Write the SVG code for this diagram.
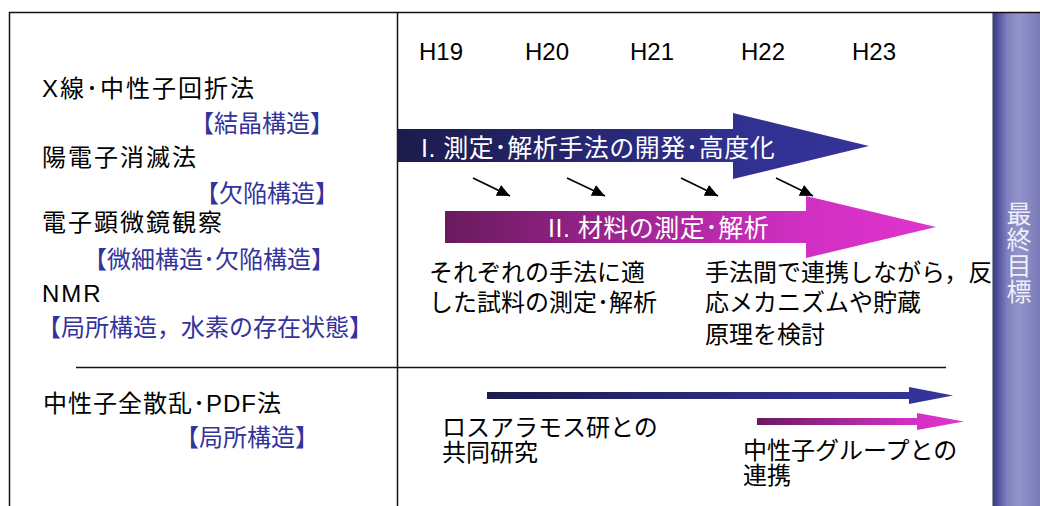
<svg xmlns="http://www.w3.org/2000/svg" width="1040" height="506" viewBox="0 0 1040 506">
<defs>
<style>
.lb{font-family:"Liberation Sans","Noto Sans CJK JP",sans-serif;font-size:24px;fill:#000;letter-spacing:2px}
.lb1{font-family:"Liberation Sans","Noto Sans CJK JP",sans-serif;font-size:24px;fill:#000;letter-spacing:1px}
.bl{font-family:"Liberation Sans","Noto Sans CJK JP",sans-serif;font-size:24px;fill:#33339a}
.tx{font-family:"Liberation Sans","Noto Sans CJK JP",sans-serif;font-size:24px;fill:#000}
.yr{font-family:"Liberation Sans",Arial,sans-serif;font-size:24px;fill:#000}
.wt{font-family:"Liberation Sans","Noto Sans CJK JP",sans-serif;font-size:25px;fill:#fff;letter-spacing:0.5px}
.vt{font-family:"Noto Sans CJK JP",sans-serif;font-size:25px;fill:#eeeefa;letter-spacing:1px}
.ln{stroke:#111;stroke-width:1.5;fill:none}
.sa{stroke:#000;stroke-width:1.6;fill:none;marker-end:url(#ah)}
</style>
<linearGradient id="gNavy" x1="397" y1="0" x2="869" y2="0" gradientUnits="userSpaceOnUse">
<stop offset="0" stop-color="#1b1b4b"/><stop offset="0.7" stop-color="#30308f"/><stop offset="1" stop-color="#34349a"/>
</linearGradient>
<linearGradient id="gMag" x1="445" y1="0" x2="936" y2="0" gradientUnits="userSpaceOnUse">
<stop offset="0" stop-color="#6a1a5e"/><stop offset="0.72" stop-color="#d02fc2"/><stop offset="1" stop-color="#df34cd"/>
</linearGradient>
<linearGradient id="gNavy2" x1="487" y1="0" x2="953" y2="0" gradientUnits="userSpaceOnUse">
<stop offset="0" stop-color="#1b1b4b"/><stop offset="0.7" stop-color="#30308f"/><stop offset="1" stop-color="#34349a"/>
</linearGradient>
<linearGradient id="gMag2" x1="757" y1="0" x2="964" y2="0" gradientUnits="userSpaceOnUse">
<stop offset="0" stop-color="#6a1a5e"/><stop offset="0.72" stop-color="#d02fc2"/><stop offset="1" stop-color="#df34cd"/>
</linearGradient>
<linearGradient id="gBar" x1="0" y1="0" x2="1" y2="0">
<stop offset="0" stop-color="#38388f"/><stop offset="0.3" stop-color="#8080bd"/><stop offset="0.55" stop-color="#9393cb"/><stop offset="1" stop-color="#7a7ab8"/>
</linearGradient>
<marker id="ah" markerWidth="14" markerHeight="12" refX="13" refY="6" orient="auto" markerUnits="userSpaceOnUse">
<path d="M0,0 L13,6 L0,12 Z" fill="#000"/>
</marker>
</defs>
<rect width="1040" height="506" fill="#fff"/>

<g id="frame">
<rect id="goal-bar" x="993" y="12" width="47" height="494" fill="url(#gBar)"/>
<line x1="992.5" y1="12" x2="992.5" y2="506" stroke="#999" stroke-width="1"/>
<path class="ln" d="M9.5,506 V12.5 H1040"/>
<line class="ln" x1="397.5" y1="12.5" x2="397.5" y2="506"/>
<line class="ln" x1="76" y1="367.5" x2="946" y2="367.5"/>
</g>

<g id="goal-label">
<text class="vt" x="1019" y="201" writing-mode="vertical-rl">最終目標</text>
</g>

<g id="methods">
<text class="lb" x="42" y="97">X線･中性子回折法</text>
<text class="bl" x="190" y="132">【結晶構造】</text>
<text class="lb" x="42" y="166">陽電子消滅法</text>
<text class="bl" x="195" y="202">【欠陥構造】</text>
<text class="lb" x="42" y="231">電子顕微鏡観察</text>
<text class="bl" x="83" y="268">【微細構造･欠陥構造】</text>
<text class="lb" x="42" y="302">NMR</text>
<text class="bl" x="37" y="336">【局所構造，水素の存在状態】</text>
<text class="lb1" x="43" y="412">中性子全散乱･PDF法</text>
<text class="bl" x="175" y="446">【局所構造】</text>
</g>

<g id="years">
<text class="yr" x="419" y="60">H19</text>
<text class="yr" x="525" y="60">H20</text>
<text class="yr" x="630" y="60">H21</text>
<text class="yr" x="741" y="60">H22</text>
<text class="yr" x="852" y="60">H23</text>
</g>

<g id="phase1">
<polygon points="397,129 733,129 733,113 869,146 733,179 733,162 397,162" fill="url(#gNavy)"/>
<text class="wt" x="421" y="157">I. 測定･解析手法の開発･高度化</text>
</g>

<g id="phase2">
<polygon points="445,211 806,211 806,196 936,227 806,258 806,243 445,243" fill="url(#gMag)"/>
<text class="wt" x="548" y="237">II. 材料の測定･解析</text>
</g>

<g id="note-each">
<text class="tx" x="429" y="281">それぞれの手法に適</text>
<text class="tx" x="429" y="311">した試料の測定･解析</text>
</g>

<g id="note-link">
<text class="tx" x="705" y="281">手法間で連携しながら，反</text>
<text class="tx" x="705" y="311">応メカニズムや貯蔵</text>
<text class="tx" x="705" y="343">原理を検討</text>
</g>

<g id="lanl">
<polygon points="487,392 909,392 909,387 953,395.5 909,404 909,399 487,399" fill="url(#gNavy2)"/>
<text class="tx" x="442" y="436">ロスアラモス研との</text>
<text class="tx" x="442" y="461">共同研究</text>
</g>

<g id="neutron-group">
<polygon points="757,418 917,418 917,413 964,421.5 917,430 917,425 757,425" fill="url(#gMag2)"/>
<text class="tx" x="743" y="459">中性子グループとの</text>
<text class="tx" x="743" y="484">連携</text>
</g>

<g id="connectors">
<line class="sa" x1="473" y1="178" x2="510" y2="196"/>
<line class="sa" x1="567" y1="178" x2="605" y2="196"/>
<line class="sa" x1="681" y1="178" x2="718" y2="196"/>
<line class="sa" x1="776" y1="178" x2="813" y2="196"/>
</g>
</svg>
